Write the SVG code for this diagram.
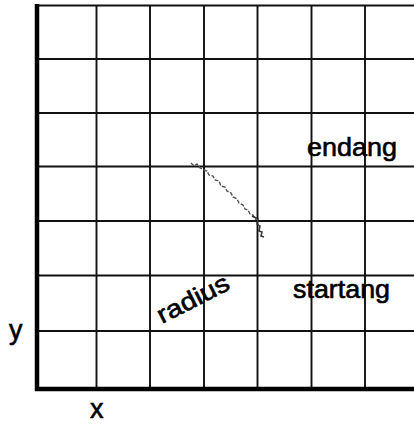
<svg xmlns="http://www.w3.org/2000/svg" width="414" height="425" viewBox="0 0 414 425">
<style>
.g{stroke:#111;stroke-width:1.9;fill:none}
.t{stroke:#000;stroke-width:4.5;fill:none}
.lb{font-family:"Liberation Sans",Arial,sans-serif;font-size:25px;fill:#000;stroke:#000;stroke-width:0.6}
.big{font-size:27px}
.sc{stroke:#555;stroke-width:1.4;fill:none;stroke-dasharray:4 1.5}
</style>
<rect width="414" height="425" fill="#fff"/>
<g id="grid">
<path class="g" d="M37 5.5H414M37 59H414M37 113H414M37 166.5H414M37 221H414M37 275.5H414M37 331H414"/>
<path class="g" d="M96.5 5V389M150 5V389M204 5V389M257.5 5V389M311.5 5V389M365 5V389"/>
<path class="t" d="M37 4V391M35 389H414"/>
</g>
<g id="arc">
<path class="sc" d="M191 163 L194 166 L197 164 L200 168 L204 170 L207 171 L209 175 L213 176 L215 180 L219 181 L221 186 L225 187 L227 191 L231 193 L233 197 L237 199 L239 203 L243 205 L245 209 L248 210 L250 214 L253 215 L256 220"/>
<path d="M252 216 L258 219 L257 224 L260 226 L259 231 L262 232 L261 236 L264 237" stroke="#333" stroke-width="1.5" fill="none"/>
</g>
<g id="labels">
<text class="lb" x="307" y="156" textLength="90" lengthAdjust="spacingAndGlyphs">endang</text>
<text class="lb" x="293" y="298" textLength="97" lengthAdjust="spacingAndGlyphs">startang</text>
<text class="lb" transform="translate(162 324) rotate(-27)" textLength="78" lengthAdjust="spacingAndGlyphs">radius</text>
<text class="lb big" x="9" y="339">y</text>
<text class="lb big" x="90" y="418">x</text>
</g>
</svg>
